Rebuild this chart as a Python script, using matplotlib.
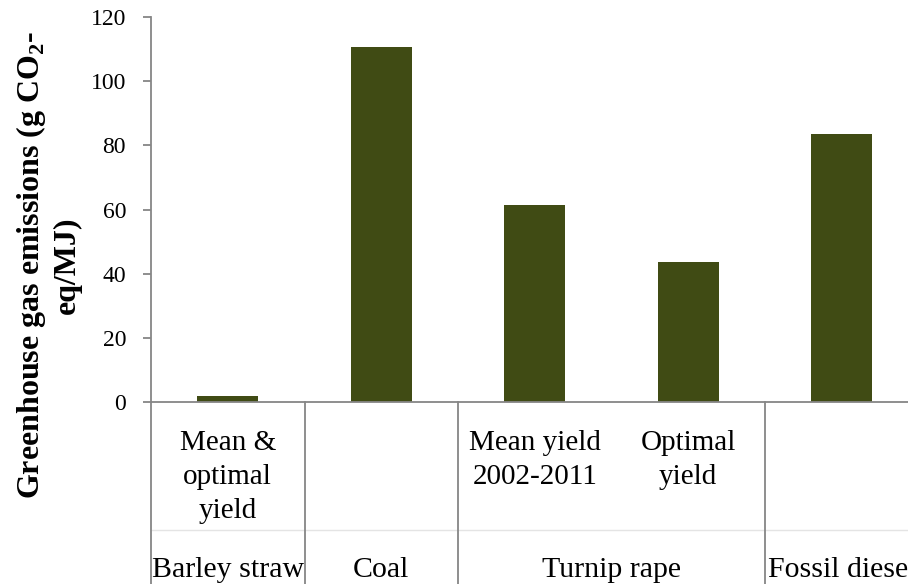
import matplotlib
matplotlib.use("Agg")
import matplotlib.pyplot as plt
import matplotlib.transforms as mtransforms

# chart data
sub_labels = ["Mean &\noptimal\nyield", "", "Mean yield\n2002-2011", "Optimal\nyield", ""]
groups = ["Barley straw", "Coal", "Turnip rape", "Fossil diesel"]
group_spans = [(0, 0), (1, 1), (2, 3), (4, 4)]
emissions = [1.8, 110.7, 61.4, 43.7, 83.6]
y_ticks = [0, 20, 40, 60, 80, 100, 120]

plt.rcParams['font.family'] = ['Liberation Serif', 'DejaVu Serif']
plt.rcParams['mathtext.fontset'] = 'custom'
plt.rcParams['mathtext.rm'] = 'Liberation Serif:bold'
plt.rcParams['mathtext.bf'] = 'Liberation Serif:bold'

W, H = 908, 584
fig = plt.figure(figsize=(W / 100, H / 100), dpi=100)
ax = fig.add_axes([151 / W, (H - 402) / H, 767.5 / W, 385 / H])

axis_col = '#868686'
x = list(range(len(emissions)))
ax.bar(x, emissions, width=0.4, color='#404B14')

ax.set_xlim(-0.5, 4.5)
ax.set_ylim(0, 120)
ax.set_yticks(y_ticks)
ax.tick_params(axis='y', labelsize=17, color=axis_col, length=6, width=1.3, pad=12)
ax.set_xticks([])
for s in ['top', 'right']:
    ax.spines[s].set_visible(False)
for s in ['left', 'bottom']:
    ax.spines[s].set_color(axis_col)
    ax.spines[s].set_linewidth(1.3)

# multi-level category axis
trans = mtransforms.blended_transform_factory(ax.transData, ax.transAxes)
bottom = -(H - 402) / 385
faint = -(530 - 402) / 385
ax.plot([-0.5, 4.5], [faint, faint], transform=trans, color='#E4E4E4', lw=1, clip_on=False)
for sep in [-0.5, 0.5, 1.5, 3.5, 4.5]:
    ax.plot([sep, sep], [0, bottom], transform=trans, color=axis_col, lw=1.3, clip_on=False)

for xi, lab in zip(x, sub_labels):
    if lab:
        ax.text(xi, -28 / 385, lab, transform=trans, ha='center', va='top',
                fontsize=21, linespacing=1.4)
for g, (a, b) in zip(groups, group_spans):
    ax.text((a + b) / 2, -(577 - 402) / 385, g, transform=trans, ha='center',
            va='baseline', fontsize=21.5)

fig.text(48 / W, 1 - 265 / H, "Greenhouse gas emissions (g CO$_2$-\neq/MJ)",
         rotation=90, ha='center', va='center', fontsize=23, fontweight='bold',
         multialignment='center', linespacing=1.25)

fig.savefig("out.png", dpi=100)
